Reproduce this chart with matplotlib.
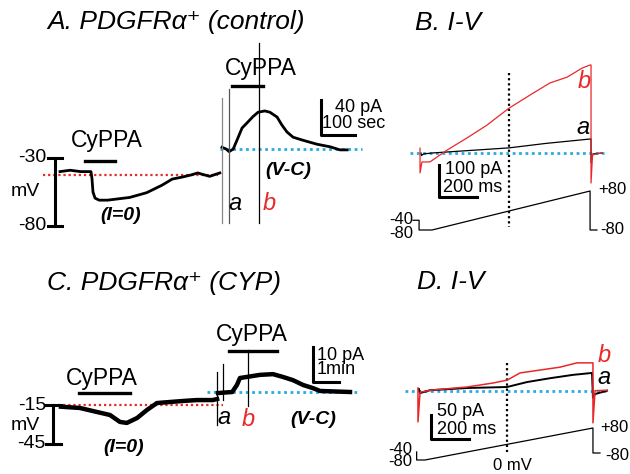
import matplotlib
matplotlib.use("Agg")
import matplotlib.pyplot as plt

plt.rcParams['font.family'] = ['Liberation Sans', 'DejaVu Sans']

RED = '#e8282a'
BLUE = '#29abe2'

# ---- Panel A: current clamp (I=0), time s / mV
a_cc_t = [0, 30, 60, 91, 94, 97, 103, 115, 140, 205, 255, 300, 330, 360, 385, 405, 440, 470]
a_cc_mv = [-40, -39, -40, -40, -45, -55, -59.5, -61, -61, -59, -55.5, -50, -45.5, -44, -42.5, -41, -43.5, -41]
a_cc_rest = -42.5

# Panel A: voltage clamp, time s / pA
a_vc_t = [0, 12, 21, 33, 44, 59, 74, 91, 106, 126, 141, 162, 176, 191, 209, 238, 279, 318, 347, 368]
a_vc_pa = [2, 0, -3, 0, 10, 24, 30, 37, 42, 43.5, 42, 36.5, 27.5, 19.5, 13.5, 10, 5.5, 2.5, -1, -1]
a_marks_t = [-1, 21, 109]            # boundary, a, b
a_marks_top = [58, 69, 121]

# ---- Panel B: I-V ramp, time ms / pA
b_red_t = [-63, -63, -53, -11, 79, 184, 289, 405, 532, 621, 711, 789, 832, 837, 837, 845, 895]
b_red_pa = [15, -62, -28, -28, 9, 47, 87, 140, 187, 219, 237, 265, 275, 275, -94, -5, 0]
b_blk_t = [-58, -55, -45, 0, 150, 405, 600, 837, 837, 847, 895]
b_blk_pa = [0, -8, -3, 0, 6, 16, 30, 44, -30, -3, 0]
b_prot_t = [-100, -68, -68, 0, 832, 832, 868]
b_prot_mv = [-40, -40, -80, -80, 80, -80, -80]

# ---- Panel C: current clamp, time s / mV
c_cc_t = [0, 44, 84, 114, 137, 153, 177, 200, 223, 253, 284, 316, 353, 363]
c_cc_mv = [-16.3, -17.3, -20.4, -22.7, -28, -28.8, -25, -18.8, -13.5, -12.7, -11.9, -11.2, -11.2, -10.4]
c_cc_rest = -15

# Panel C: voltage clamp, time s / pA
c_vc_t = [0, 33, 44, 51, 67, 98, 128, 151, 174, 198, 221, 237, 307]
c_vc_pa = [-0.3, 0, 2, 4, 4.3, 4.9, 5.1, 4.3, 3.4, 2, 1.1, 0.3, 0]
c_marks_t = [-2, 12, 70]
c_marks_lo = [-9.4, -2.3, -4]
c_marks_hi = [5.7, 8, 12]

# ---- Panel D: I-V ramp, time ms / pA
d_red_t = [-37, -37, -26, 42, 221, 358, 432, 500, 605, 710, 800, 879, 884, 884, 895, 958]
d_red_pa = [5.6, -65, -3, 1.5, 7.7, 16, 22, 37, 43, 49, 58, 58, 58, -67, 0, 1]
d_blk_t = [-32, -26, 26, 221, 432, 537, 658, 779, 879, 884, 895, 958]
d_blk_pa = [3.5, -5, 1, 5.6, 7.7, 18, 26, 33, 37, -15, -7, 0]
d_prot_t = [-44, -44, 0, 884, 884, 921]
d_prot_mv = [-40, -80, -80, 80, -45, -45]

W, H = 630, 474
fig = plt.figure(figsize=(6.3, 4.74), dpi=100)


def px_axes(box, x0px, xs, y0px, y0val, ys):
    l, r, t, b = box
    ax = fig.add_axes([l / W, 1 - b / H, (r - l) / W, (b - t) / H])
    ax.set_xlim((l - x0px) / xs, (r - x0px) / xs)
    ax.set_ylim(y0val - (b - y0px) / ys, y0val - (t - y0px) / ys)
    ax.axis('off')
    return ax


def ptext(x, y, s, **kw):
    kw.setdefault('va', 'center')
    fig.text(x / W, 1 - y / H, s, **kw)


def dotted(ax, x, y, color, lw=1.6):
    ax.plot(x, y, color=color, lw=lw, linestyle=(0, (1, 1.3)), clip_on=False)


# ---------- A ----------
ax = px_axes([0, 222, 40, 240], 60, 0.34, 158, -30, 1.36)
dotted(ax, [-50, 466], [a_cc_rest, a_cc_rest], RED)
ax.plot(a_cc_t, a_cc_mv, color='black', lw=2.0, clip_on=False)
ax.plot([-14.7, -14.7], [-30, -80], color='black', lw=2.2)
for v in (-30, -80):
    ax.plot([-35, 6], [v, v], color='black', lw=2.2)
ax.plot([73.5, 162], [-32.2, -32.2], color='black', lw=2.4)

ax = px_axes([215, 400, 40, 240], 222, 0.34, 149, 0, 0.875)
dotted(ax, [-6, 412], [0, 0], BLUE, lw=2)
ax.plot(a_vc_t, a_vc_pa, color='black', lw=2.0, clip_on=False)
for t, top, c in zip(a_marks_t, a_marks_top, ['#888888', '#555555', 'black']):
    ax.plot([t, t], [top, -85], color=c, lw=0.9)
ax.plot([29, 121], [72, 72], color='black', lw=2.4)
ax.plot([291, 291, 391], [56, 16, 16], color='black', lw=2.2)

# ---------- B ----------
ax = px_axes([395, 630, 40, 245], 432, 0.19, 153, 0, 0.32)
dotted(ax, [-116, 905], [0, 0], BLUE, lw=2)
ax.plot([405, 405], [250, -231], color='black', lw=1.6, linestyle=(0, (1, 1.3)))
ax.plot(b_blk_t, b_blk_pa, color='black', lw=0.9)
ax.plot(b_red_t, b_red_pa, color=RED, lw=0.9)
ax.plot([37, 37, 237], [-37.5, -137.5, -137.5], color='black', lw=2.2)
axv = px_axes([395, 630, 40, 245], 432, 0.19, 230, -80, 39 / 160)
axv.plot(b_prot_t, b_prot_mv, color='black', lw=0.9)

# ---------- C ----------
ax = px_axes([0, 225, 290, 474], 61, 0.43, 405, -15, 1.3)
dotted(ax, [-7, 377], [c_cc_rest, c_cc_rest], RED)
ax.plot(c_cc_t, c_cc_mv, color='black', lw=3.2, clip_on=False)
ax.plot([-18, -18], [-15, -45], color='black', lw=2.2)
for v in (-15, -45):
    ax.plot([-35, 0], [v, v], color='black', lw=2.2)
ax.plot([42, 160], [-5.8, -5.8], color='black', lw=2.4)

ax = px_axes([200, 400, 290, 474], 218, 0.43, 392, 0, 3.5)
dotted(ax, [-26, 323], [0, 0], BLUE, lw=2)
ax.plot(c_vc_t, c_vc_pa, color='black', lw=3.2, clip_on=False)
for t, lo, hi in zip(c_marks_t, c_marks_lo, c_marks_hi):
    ax.plot([t, t], [lo, hi], color='black', lw=0.9)
ax.plot([26, 137], [11.7, 11.7], color='black', lw=2.4)
ax.plot([221, 221, 281], [12.9, 2.9, 2.9], color='black', lw=2.2)

# ---------- D ----------
ax = px_axes([395, 630, 290, 474], 425, 0.19, 390.7, 0, 0.48)
dotted(ax, [-105, 958], [0, 0], BLUE, lw=2)
ax.plot([430, 430], [57.7, -127.7], color='black', lw=1.6, linestyle=(0, (1, 1.3)))
ax.plot(d_blk_t, d_blk_pa, color='black', lw=1.4)
ax.plot(d_red_t, d_red_pa, color=RED, lw=1.1)
ax.plot([29, 29, 229], [-50.6, -100.6, -100.6], color='black', lw=2.2)
axv = px_axes([395, 630, 290, 474], 425, 0.19, 460, -80, 0.2)
axv.plot(d_prot_t, d_prot_mv, color='black', lw=0.9)

# ---------- text ----------
title_kw = dict(fontsize=19, style='italic', ha='left')
ptext(47, 22, 'A. PDGFRα⁺ (control)', **title_kw)
ptext(415, 23, 'B. I-V', **title_kw)
ptext(47, 283, 'C. PDGFRα⁺ (CYP)', **title_kw)
ptext(417, 282, 'D. I-V', **title_kw)

for x, y in [(107, 141), (261, 68), (102, 378), (252, 335)]:
    ptext(x, y, 'CyPPA', fontsize=16.5, ha='center')

num = dict(fontsize=14)
ptext(46, 158, '-30', ha='right', **num)
ptext(25, 191, 'mV', ha='center', **num)
ptext(46, 226, '-80', ha='right', **num)
ptext(46, 405, '-15', ha='right', **num)
ptext(25, 425, 'mV', ha='center', **num)
ptext(46, 444, '-45', ha='right', **num)

cond = dict(fontsize=14, style='italic', weight='bold', ha='center')
ptext(121, 216, '(I=0)', **cond)
ptext(288, 170, '(V-C)', **cond)
ptext(124, 448, '(I=0)', **cond)
ptext(313, 420, '(V-C)', **cond)

lab = dict(fontsize=17, style='italic', ha='center')
ptext(235, 203, 'a', **lab)
ptext(269, 203, 'b', color=RED, **lab)
ptext(584, 82, 'b', color=RED, **lab)
ptext(583, 128, 'a', **lab)
ptext(224, 418, 'a', **lab)
ptext(248, 420, 'b', color=RED, **lab)
ptext(604, 356, 'b', color=RED, **lab)
ptext(604, 378, 'a', **lab)

sb = dict(fontsize=13, ha='left')
ptext(335, 108, '40 pA', **sb)
ptext(322, 124, '100 sec', **sb)
ptext(445, 169, '100 pA', **sb)
ptext(443, 188, '200 ms', **sb)
ptext(317, 355, '10 pA', **sb)
ptext(317, 370, '1min', **sb)
ptext(437, 411, '50 pA', **sb)
ptext(437, 430, '200 ms', **sb)

pv = dict(fontsize=12)
ptext(598, 190, '+80', ha='left', **pv)
ptext(600, 229, '-80', ha='left', **pv)
ptext(413, 220, '-40', ha='right', **pv)
ptext(413, 233, '-80', ha='right', **pv)
ptext(600, 427, '+80', ha='left', **pv)
ptext(605, 455, '-80', ha='left', **pv)
ptext(412, 449, '-40', ha='right', **pv)
ptext(412, 461, '-80', ha='right', **pv)
ptext(512, 465, '0 mV', ha='center', **pv)

fig.savefig('out.png', dpi=100)
